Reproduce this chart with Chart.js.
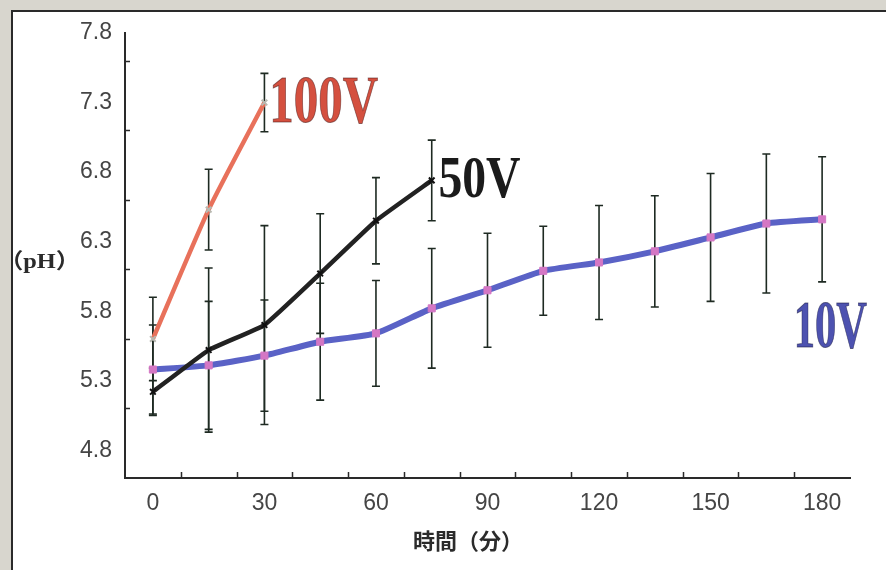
<!DOCTYPE html>
<html><head><meta charset="utf-8">
<script src="https://cdn.jsdelivr.net/npm/chart.js@4.4.1/dist/chart.umd.min.js"></script>
<style>
html,body{margin:0;padding:0;width:886px;height:570px;overflow:hidden;background:#d8d6ce;}
#frame{position:absolute;left:11px;top:10px;width:875px;height:560px;background:#fff;border-left:2px solid #2a2a2a;border-top:2px solid #2a2a2a;}
#wrap{position:absolute;left:0;top:0;width:886px;height:570px;}
</style></head><body>
<div id="frame"></div>
<div id="wrap"><canvas id="c" width="886" height="570"></canvas></div>
<script>
const categories = ['0','15','30','45','60','75','90','105','120','135','150','165','180'];
const xTickLabels = ['0','30','60','90','120','150','180'];
const yTickLabels = ['4.8','5.3','5.8','6.3','6.8','7.3','7.8'];
const yMinorTicks = [5.05,5.55,6.05,6.55,7.05,7.55];

const series10V = [5.33,5.36,5.43,5.53,5.59,5.77,5.90,6.04,6.10,6.18,6.28,6.38,6.41];
const error10V  = [0.32,0.46,0.40,0.42,0.38,0.43,0.41,0.32,0.41,0.40,0.46,0.50,0.45];
const series50V = [5.17,5.47,5.65,6.02,6.40,6.69];
const error50V  = [0.17,0.59,0.715,0.43,0.31,0.29];
const series100V = [5.55,6.48,7.25];
const error100V  = [0.30,0.29,0.21];

const seriesNames = ['10V','50V','100V'];
const errors = [error10V, error50V, error100V];

const axisColor = '#2a2a2a';

const errorBarPlugin = {
  id:'errorBars',
  beforeDatasetsDraw(chart){
    const ctx = chart.ctx, ys = chart.scales.y;
    ctx.save();
    ctx.strokeStyle = '#1e2a22';
    ctx.lineWidth = 1.6;
    chart.data.datasets.forEach((ds, i) => {
      const meta = chart.getDatasetMeta(i);
      const err = errors[i];
      meta.data.forEach((pt, j) => {
        const v = ds.data[j];
        if (v == null) return;
        const x = pt.x;
        const yt = ys.getPixelForValue(v + err[j]);
        const yb = ys.getPixelForValue(v - err[j]);
        ctx.beginPath();
        ctx.moveTo(x, yt); ctx.lineTo(x, yb);
        ctx.moveTo(x-4, yt); ctx.lineTo(x+4, yt);
        ctx.moveTo(x-4, yb); ctx.lineTo(x+4, yb);
        ctx.stroke();
      });
    });
    ctx.restore();
  }
};

function fitText(ctx, text, left, baseline, capH, inkW, fill, stroke, family){
  const size = capH / 0.66;
  ctx.save();
  ctx.font = 'bold ' + size + 'px ' + (family || '"Liberation Serif", "DejaVu Serif", serif');
  const m = ctx.measureText(text);
  const ink = m.actualBoundingBoxLeft + m.actualBoundingBoxRight;
  const sx = inkW / ink;
  ctx.translate(left, baseline);
  ctx.scale(sx, 1);
  ctx.textBaseline = 'alphabetic';
  ctx.textAlign = 'left';
  ctx.fillStyle = fill;
  ctx.fillText(text, m.actualBoundingBoxLeft, 0);
  if (stroke){
    ctx.lineWidth = 1;
    ctx.strokeStyle = stroke;
    ctx.strokeText(text, m.actualBoundingBoxLeft, 0);
  }
  ctx.restore();
}

const decorPlugin = {
  id:'decor',
  afterDraw(chart){
    const ctx = chart.ctx, xs = chart.scales.x, ys = chart.scales.y;
    ctx.save();
    ctx.strokeStyle = axisColor;
    ctx.lineWidth = 1.5;
    ctx.beginPath();
    for (let i = 1; i < categories.length; i++){
      const px = Math.round((xs.getPixelForValue(i-1) + xs.getPixelForValue(i)) / 2) + 0.5;
      ctx.moveTo(px, ys.bottom); ctx.lineTo(px, ys.bottom - 6);
    }
    yMinorTicks.forEach(v => {
      const py = Math.round(ys.getPixelForValue(v)) + 0.5;
      ctx.moveTo(xs.left, py); ctx.lineTo(xs.left + 5, py);
    });
    ctx.stroke();

    // axis title (x)
    ctx.fillStyle = '#2b2b2b';
    ctx.textBaseline = 'middle';
    ctx.textAlign = 'center';
    ctx.font = 'bold 22px "Noto Sans CJK JP", "Noto Sans CJK TC", sans-serif';
    ctx.fillText('時間（分）', 468, 541);
    ctx.restore();

    // axis title (y)
    fitText(ctx, '（pH）', 15, 268, 14, 50, '#2b2b2b', null, '"Liberation Serif", "Noto Sans CJK JP", serif');

    // series labels
    fitText(ctx, '100V', 273, 122, 44, 105, '#d4503f', 'rgba(70,20,20,0.55)');
    fitText(ctx, '50V', 440, 197, 39, 80, '#1b1b1b', null);
    fitText(ctx, '10V', 797, 347, 44, 70, '#4d52b0', 'rgba(30,30,70,0.6)');
  }
};

new Chart(document.getElementById('c'), {
  type:'line',
  data:{
    labels: categories,
    datasets:[
      { label: seriesNames[0], data: series10V, borderColor:'#5a62c6', borderWidth:6,
        pointStyle:'rect', pointRadius:5, pointBackgroundColor:'#d477c4', pointBorderColor:'#d477c4', pointBorderWidth:1,
        tension:0.15, order:3 },
      { label: seriesNames[1], data: series50V, borderColor:'#222222', borderWidth:4.5,
        pointStyle:'crossRot', pointRadius:4, pointBorderColor:'#111', pointBorderWidth:2,
        tension:0.1, order:2 },
      { label: seriesNames[2], data: series100V, borderColor:'#e8715b', borderWidth:4.5,
        pointStyle:'crossRot', pointRadius:4, pointBorderColor:'#b8b8b0', pointBorderWidth:2,
        tension:0.2, order:1 }
    ]
  },
  options:{
    responsive:false,
    animation:false,
    devicePixelRatio:1,
    layout:{ padding:{ top:33, right:36, bottom:0, left:0 } },
    plugins:{ legend:{display:false}, tooltip:{enabled:false} },
    scales:{
      x:{
        type:'category',
        offset:true,
        grid:{ display:false, drawTicks:false, offset:true },
        border:{ display:true, color:axisColor, width:2 },
        ticks:{
          autoSkip:false, maxRotation:0, padding:12,
          color:'#454545',
          font:{ family:'"Liberation Sans", Arial, sans-serif', size:23 },
          callback:(v, i) => xTickLabels.includes(categories[i]) ? categories[i] : ''
        },
        afterFit:(s) => { s.height = 92; }
      },
      y:{
        type:'linear',
        min:4.55, max:7.75,
        grid:{ display:false, drawTicks:false },
        border:{ display:true, color:axisColor, width:2 },
        afterBuildTicks:(s) => { s.ticks = yTickLabels.map(t => ({ value: parseFloat(t) })); },
        ticks:{
          padding:13, labelOffset:7,
          color:'#454545',
          font:{ family:'"Liberation Sans", Arial, sans-serif', size:23 },
          callback:(v) => Number(v).toFixed(1)
        },
        afterFit:(s) => { s.width = 125; }
      }
    }
  },
  plugins:[errorBarPlugin, decorPlugin]
});
</script>
</body></html>
